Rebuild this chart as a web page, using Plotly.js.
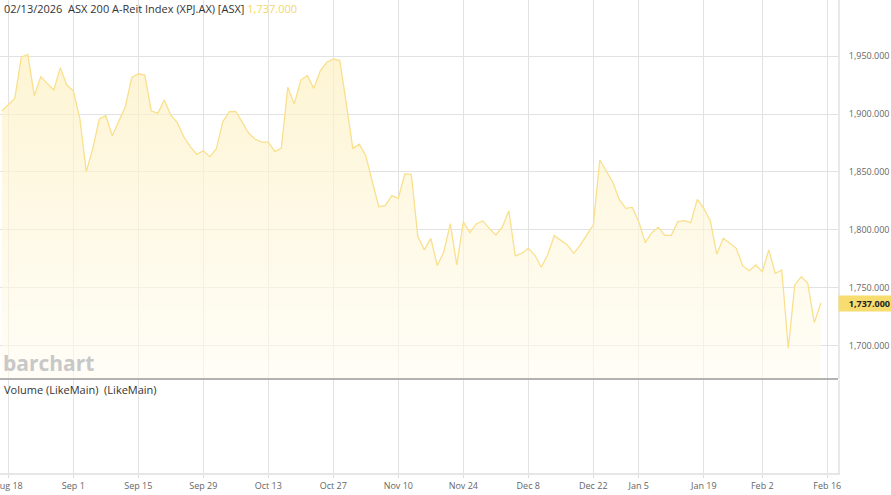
<!DOCTYPE html>
<html>
<head>
<meta charset="utf-8">
<script src="https://cdn.plot.ly/plotly-3.0.1.min.js"></script>
<style>
  html, body { margin: 0; padding: 0; background: #ffffff; }
  #chart { width: 891px; height: 495px; }
</style>
</head>
<body>
<div id="chart"></div>
<script>
// Trading days (ASX) shown on the chart
const dates = [
  "2025-08-15","2025-08-18","2025-08-19","2025-08-20","2025-08-21","2025-08-22",
  "2025-08-25","2025-08-26","2025-08-27","2025-08-28","2025-08-29",
  "2025-09-01","2025-09-02","2025-09-03","2025-09-04","2025-09-05",
  "2025-09-08","2025-09-09","2025-09-10","2025-09-11","2025-09-12",
  "2025-09-15","2025-09-16","2025-09-17","2025-09-18","2025-09-19",
  "2025-09-22","2025-09-23","2025-09-24","2025-09-25","2025-09-26",
  "2025-09-29","2025-09-30",
  "2025-10-01","2025-10-02","2025-10-03",
  "2025-10-06","2025-10-07","2025-10-08","2025-10-09","2025-10-10",
  "2025-10-13","2025-10-14","2025-10-15","2025-10-16","2025-10-17",
  "2025-10-20","2025-10-21","2025-10-22","2025-10-23","2025-10-24",
  "2025-10-27","2025-10-28","2025-10-29","2025-10-30","2025-10-31",
  "2025-11-03","2025-11-04","2025-11-05","2025-11-06","2025-11-07",
  "2025-11-10","2025-11-11","2025-11-12","2025-11-13","2025-11-14",
  "2025-11-17","2025-11-18","2025-11-19","2025-11-20","2025-11-21",
  "2025-11-24","2025-11-25","2025-11-26","2025-11-27","2025-11-28",
  "2025-12-01","2025-12-02","2025-12-03","2025-12-04","2025-12-05",
  "2025-12-08","2025-12-09","2025-12-10","2025-12-11","2025-12-12",
  "2025-12-15","2025-12-16","2025-12-17","2025-12-18","2025-12-19",
  "2025-12-22","2025-12-23","2025-12-24",
  "2025-12-29","2025-12-30","2025-12-31",
  "2026-01-02",
  "2026-01-05","2026-01-06","2026-01-07","2026-01-08","2026-01-09",
  "2026-01-12","2026-01-13","2026-01-14","2026-01-15","2026-01-16",
  "2026-01-19","2026-01-20","2026-01-21","2026-01-22","2026-01-23",
  "2026-01-27","2026-01-28","2026-01-29","2026-01-30",
  "2026-02-02","2026-02-03","2026-02-04","2026-02-05","2026-02-06",
  "2026-02-09","2026-02-10","2026-02-11","2026-02-12","2026-02-13"
];

// Closing values
const closes = [
  1902.6,1908.0,1913.5,1949.0,1951.4,1915.8,
  1932.2,1926.4,1920.7,1940.0,1925.0,
  1920.0,1896.3,1850.3,1870.4,1895.7,
  1898.5,1881.3,1893.4,1906.3,1931.6,
  1934.7,1933.6,1902.8,1900.6,1912.0,
  1899.0,1892.5,1880.4,1871.8,1865.2,
  1868.3,1863.2,
  1869.8,1893.4,1902.0,
  1902.2,1893.4,1883.4,1878.2,1875.8,
  1875.8,1867.8,1870.4,1923.0,1908.6,
  1929.3,1933.3,1922.1,1937.3,1944.6,
  1947.4,1946.0,1909.2,1870.4,1873.9,
  1864.1,1841.6,1820.1,1821.0,1829.6,
  1827.3,1848.3,1848.0,1794.8,1782.8,
  1792.8,1769.3,1781.0,1805.5,1769.8,
  1807.0,1797.7,1805.2,1808.0,1801.4,
  1795.7,1802.5,1816.6,1777.6,1779.9,
  1784.2,1778.4,1767.8,1778.8,1795.1,
  1790.8,1787.1,1779.9,1787.0,1795.7,
  1804.3,1860.3,1850.7,
  1841.2,1826.4,1818.7,
  1819.5,
  1807.2,1789.1,1797.7,1802.3,1795.4,
  1795.4,1807.2,1808.0,1806.3,1826.4,
  1818.7,1808.0,1779.0,1792.8,1788.5,
  1784.2,1769.0,1764.9,1769.8,
  1764.0,1782.8,1762.6,1765.5,1698.0,
  1752.6,1759.7,1754.0,1720.1,1737.0
];

const holidays = ["2025-12-25","2025-12-26","2026-01-01","2026-01-26"];

const tickDates = ["2025-08-18","2025-09-01","2025-09-15","2025-09-29","2025-10-13",
  "2025-10-27","2025-11-10","2025-11-24","2025-12-08","2025-12-22","2026-01-05",
  "2026-01-19","2026-02-02","2026-02-16"];
const tickLabels = ["Aug 18","Sep 1","Sep 15","Sep 29","Oct 13","Oct 27","Nov 10",
  "Nov 24","Dec 8","Dec 22","Jan 5","Jan 19","Feb 2","Feb 16"];

const titleDate = "02/13/2026";
const titleName = "ASX 200 A-Reit Index (XPJ.AX) [ASX]";
const lastValue = closes[closes.length - 1];
const fmt = v => v.toLocaleString("en-US", {minimumFractionDigits: 3, maximumFractionDigits: 3});

const lineColor = "#f9e08c";
const gridColor = "#e2e2e2";
const FONT = "Open Sans, Noto Sans, sans-serif";

const priceTrace = {
  x: dates, y: closes, type: "scatter", mode: "lines",
  line: { color: lineColor, width: 1.3 },
  fill: "tozeroy",
  fillgradient: {
    type: "vertical",
    start: 1671.5, stop: 1951,
    colorscale: [[0, "rgba(255,252,240,0.6)"], [1, "rgba(253,240,192,0.7)"]]
  },
  xaxis: "x", yaxis: "y", hoverinfo: "skip", showlegend: false
};
const volTrace = { x: [], y: [], type: "scatter", mode: "lines", xaxis: "x", yaxis: "y2", showlegend: false };

const priceBottom = (473 - 379) / 473;
const volTop = (473 - 380) / 473;

const layout = {
  width: 891, height: 495,
  margin: { l: 0, r: 53, t: 0, b: 22, pad: 0 },
  paper_bgcolor: "#ffffff", plot_bgcolor: "#ffffff",
  font: { family: FONT, size: 9, color: "#666666" },
  showlegend: false,
  xaxis: {
    type: "date",
    anchor: "y2",
    range: ["2025-08-14 17:21", "2026-02-17 15:36"],
    rangebreaks: [{ bounds: ["sat", "mon"] }, { values: holidays }],
    tickmode: "array", tickvals: tickDates, ticktext: tickLabels,
    ticklabeloverflow: "allow",
    showgrid: true, gridcolor: gridColor, gridwidth: 1,
    ticks: "outside", ticklen: 3, tickcolor: "#dddddd",
    showline: true, linecolor: "#e6e6e6", linewidth: 2,
    tickfont: { family: FONT, size: 9, color: "#666666" },
    zeroline: false, fixedrange: true
  },
  yaxis: {
    domain: [priceBottom, 1],
    side: "right", anchor: "x",
    range: [1671.5, 1998.3],
    dtick: 50, tick0: 1700, tickformat: ",.3f",
    showgrid: true, gridcolor: gridColor, gridwidth: 1,
    ticks: "outside", ticklen: 7, tickcolor: "rgba(0,0,0,0)",
    showline: true, linecolor: "#e8e8e8", linewidth: 2,
    tickfont: { family: FONT, size: 9, color: "#666666" },
    zeroline: false, fixedrange: true
  },
  yaxis2: {
    domain: [0, volTop],
    side: "right", anchor: "x",
    range: [0, 1],
    showgrid: false, showticklabels: false, zeroline: false,
    showline: true, linecolor: "#e8e8e8", linewidth: 2,
    fixedrange: true
  },
  shapes: [
    { type: "line", xref: "paper", yref: "paper", x0: 0, x1: 1, y0: priceBottom, y1: priceBottom,
      line: { color: "#9a9a9a", width: 1.5 } }
  ],
  annotations: [
    { xref: "paper", yref: "paper", x: 0, y: 1, xanchor: "left", yanchor: "top",
      xshift: 2, yshift: 1, showarrow: false, align: "left",
      text: titleDate + "&nbsp;&nbsp;" + titleName + " <span style='color:#f5d768'>" + fmt(lastValue) + "</span>",
      font: { family: FONT, size: 11, color: "#333333" } },
    { xref: "paper", yref: "paper", x: 0, y: priceBottom, xanchor: "left", yanchor: "bottom",
      xshift: 1, yshift: 0, showarrow: false,
      text: "<b>barchart</b>",
      font: { family: FONT, size: 21, color: "#c8c8c8" } },
    { xref: "paper", yref: "paper", x: 0, y: volTop, xanchor: "left", yanchor: "top",
      xshift: 2, yshift: 0, showarrow: false,
      text: "Volume (LikeMain)&nbsp;&nbsp;(LikeMain)",
      font: { family: FONT, size: 11, color: "#333333" } },
    { xref: "paper", yref: "y", x: 1, y: lastValue, xanchor: "left", yanchor: "middle",
      showarrow: false, align: "right",
      text: "<b>" + fmt(lastValue) + "</b>",
      bgcolor: "#f7dc70", borderpad: 2, width: 49, height: 11,
      font: { family: FONT, size: 9, color: "#222222" } }
  ]
};

Plotly.newPlot("chart", [priceTrace, volTrace], layout, { displayModeBar: false, staticPlot: true });
</script>
</body>
</html>
